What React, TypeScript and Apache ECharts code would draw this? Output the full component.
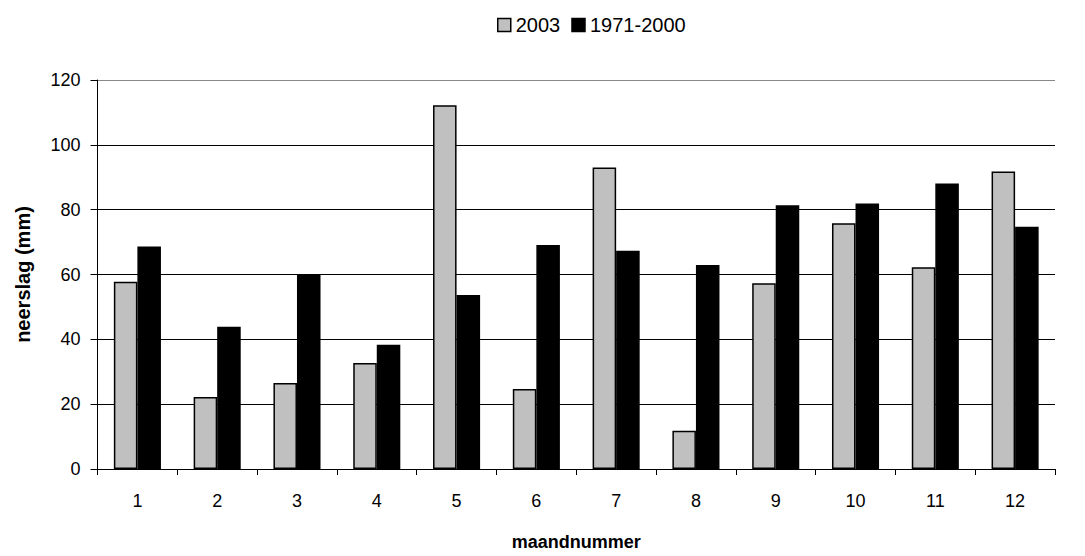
import React, { useEffect, useRef } from "react";
import * as echarts from "echarts";

const months = ["1", "2", "3", "4", "5", "6", "7", "8", "9", "10", "11", "12"];
const rain2003 = [57.8, 22.2, 26.5, 32.7, 112.2, 24.7, 93.0, 11.8, 57.3, 75.8, 62.2, 91.8];
const rainNormal = [68.6, 43.9, 60.0, 38.3, 53.7, 69.1, 67.3, 62.9, 81.4, 81.9, 88.1, 74.7];
const seriesNames = ["2003", "1971-2000"];

const FONT = "'Liberation Sans', Arial, sans-serif";

export default function App() {
  const ref = useRef<HTMLDivElement>(null);
  useEffect(() => {
    if (!ref.current) return;
    const chart = echarts.init(ref.current, null, { renderer: "svg" });
    chart.setOption({
      animation: false,
      backgroundColor: "#ffffff",
      textStyle: { fontFamily: FONT },
      legend: {
        left: 492,
        top: 10,
        itemWidth: 13,
        itemHeight: 13,
        itemGap: 11,
        icon: "rect",
        itemStyle: { borderColor: "#000", borderWidth: 1.5 },
        textStyle: { fontSize: 20, color: "#000", fontFamily: FONT },
        data: seriesNames,
      },
      grid: { left: 97.5, right: 30, top: 80, bottom: 86.5, containLabel: false },
      xAxis: {
        type: "category",
        data: months,
        name: "maandnummer",
        nameLocation: "middle",
        nameGap: 64,
        nameTextStyle: { fontSize: 18, fontWeight: "bold", color: "#000", fontFamily: FONT },
        axisLine: { lineStyle: { color: "#000", width: 1 } },
        axisTick: { show: true, inside: false, length: 6, alignWithLabel: false, lineStyle: { color: "#000" } },
        axisLabel: { fontSize: 18, color: "#000", margin: 23, fontFamily: FONT },
      },
      yAxis: {
        type: "value",
        min: 0,
        max: 120,
        interval: 20,
        name: "neerslag (mm)",
        nameLocation: "middle",
        nameGap: 65,
        nameTextStyle: { fontSize: 20, fontWeight: "bold", color: "#000", fontFamily: FONT },
        axisLine: { show: true, lineStyle: { color: "#000", width: 1 } },
        axisTick: { show: true, inside: false, length: 7, lineStyle: { color: "#000" } },
        axisLabel: { fontSize: 18, color: "#000", margin: 17, fontFamily: FONT },
        splitLine: {
          show: true,
          lineStyle: { color: ["#000", "#000", "#000", "#000", "#000", "#000", "#888"], width: 1 },
        },
      },
      series: [
        {
          name: seriesNames[0],
          type: "bar",
          data: rain2003,
          barGap: "0%",
          barCategoryGap: "41%",
          itemStyle: { color: "#c0c0c0", borderColor: "#000", borderWidth: 1.5 },
        },
        {
          name: seriesNames[1],
          type: "bar",
          data: rainNormal,
          barGap: "0%",
          barCategoryGap: "41%",
          itemStyle: { color: "#000", borderColor: "#000", borderWidth: 1.5 },
        },
      ],
    });
    return () => chart.dispose();
  }, []);
  return <div ref={ref} style={{ width: 1085, height: 556, position: "absolute", left: 0, top: 0 }} />;
}
